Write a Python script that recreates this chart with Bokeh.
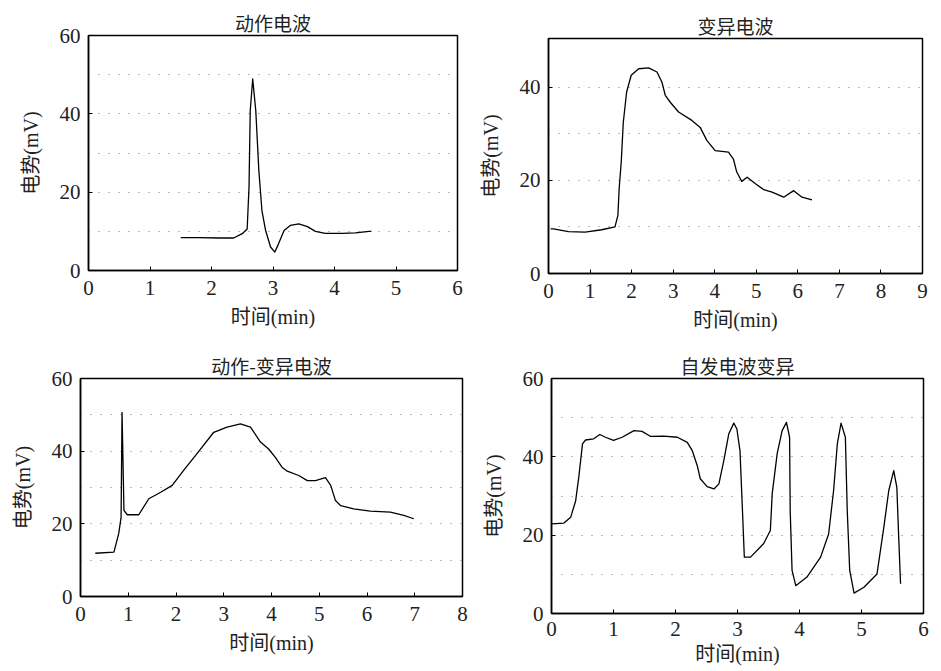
from bokeh.plotting import figure
from bokeh.layouts import column, row
from bokeh.models import FixedTicker, Range1d
from bokeh.embed import file_html
from bokeh.resources import INLINE

# ---- data ----
titles = ["动作电波", "变异电波", "动作-变异电波", "自发电波变异"]
x_label = "时间(min)"
y_label = "电势(mV)"

t1 = [1.5, 1.8, 2.12, 2.36, 2.5, 2.58, 2.61, 2.63, 2.67, 2.72, 2.77, 2.82, 2.88, 2.96, 3.03, 3.09, 3.18, 3.28, 3.42, 3.56, 3.69, 3.85, 4.12, 4.34, 4.56, 4.6]
v1 = [8.4, 8.4, 8.3, 8.3, 9.4, 10.6, 21.3, 40.8, 48.9, 40.8, 25.5, 15.3, 10.2, 6.0, 4.7, 6.8, 10.2, 11.5, 11.9, 11.2, 10.0, 9.5, 9.5, 9.6, 10.0, 10.0]

t2 = [0.05, 0.12, 0.48, 0.88, 1.28, 1.6, 1.67, 1.7, 1.75, 1.8, 1.88, 1.99, 2.17, 2.41, 2.61, 2.73, 2.81, 2.93, 3.13, 3.45, 3.65, 3.81, 4.01, 4.33, 4.45, 4.53, 4.65, 4.78, 4.98, 5.18, 5.38, 5.66, 5.9, 6.1, 6.34]
v2 = [9.6, 9.6, 9.0, 8.9, 9.4, 10.0, 12.5, 18.2, 23.9, 32.5, 39.0, 42.6, 44.0, 44.2, 43.3, 41.1, 38.3, 36.8, 34.7, 32.9, 31.4, 28.6, 26.4, 26.1, 24.6, 21.8, 19.8, 20.7, 19.3, 18.0, 17.5, 16.4, 17.8, 16.4, 15.8]

t3 = [0.31, 0.7, 0.8, 0.85, 0.87, 0.91, 0.98, 1.22, 1.43, 1.68, 1.92, 2.16, 2.44, 2.79, 3.07, 3.35, 3.56, 3.77, 3.94, 4.08, 4.22, 4.33, 4.57, 4.75, 4.92, 5.13, 5.24, 5.34, 5.45, 5.72, 6.07, 6.49, 6.77, 6.98]
v3 = [11.9, 12.2, 17.3, 21.8, 50.7, 23.7, 22.5, 22.5, 26.9, 28.7, 30.6, 34.7, 39.3, 45.2, 46.6, 47.5, 46.6, 42.5, 40.6, 38.3, 35.6, 34.5, 33.3, 31.9, 31.9, 32.7, 30.6, 26.4, 25.0, 24.1, 23.5, 23.2, 22.3, 21.4]

t4 = [0.0, 0.2, 0.31, 0.39, 0.44, 0.5, 0.55, 0.68, 0.78, 0.87, 1.0, 1.14, 1.33, 1.46, 1.6, 1.81, 2.03, 2.19, 2.27, 2.35, 2.4, 2.51, 2.62, 2.7, 2.78, 2.86, 2.94, 2.99, 3.04, 3.08, 3.11, 3.21, 3.42, 3.53, 3.56, 3.64, 3.72, 3.79, 3.84, 3.85, 3.88, 3.94, 4.12, 4.34, 4.47, 4.55, 4.61, 4.67, 4.74, 4.77, 4.81, 4.88, 5.04, 5.25, 5.36, 5.44, 5.52, 5.57, 5.6, 5.63]
v4 = [22.9, 23.1, 24.6, 28.8, 34.8, 43.3, 44.3, 44.6, 45.7, 45.0, 44.2, 45.0, 46.7, 46.5, 45.2, 45.3, 45.0, 43.7, 41.6, 37.8, 34.4, 32.4, 31.8, 33.1, 39.1, 45.9, 48.6, 47.1, 41.6, 26.3, 14.4, 14.4, 17.8, 21.2, 30.6, 40.8, 46.7, 48.8, 45.0, 26.3, 11.0, 7.1, 9.3, 14.4, 20.3, 31.4, 43.3, 48.6, 45.0, 26.3, 11.0, 5.2, 6.7, 10.1, 22.0, 31.4, 36.5, 32.2, 19.5, 7.6]

x_ticks = [[0, 1, 2, 3, 4, 5, 6], [0, 1, 2, 3, 4, 5, 6, 7, 8, 9], [0, 1, 2, 3, 4, 5, 6, 7, 8], [0, 1, 2, 3, 4, 5, 6]]
y_ticks = [[0, 20, 40, 60], [0, 20, 40], [0, 20, 40, 60], [0, 20, 40, 60]]
grid_levels = [[10, 20, 30, 40, 50], [10, 20, 30, 40], [10, 20, 30, 40, 50], [10, 20, 30, 40, 50]]
x_max = [6, 9, 8, 6]
y_max = [60, 50.5, 60, 60]

series = [(t1, v1), (t2, v2), (t3, v3), (t4, v4)]

# layout (pixels): figure size and (left, right, top, bottom) borders
sizes = [(473, 338), (463, 338), (473, 333), (463, 333)]
borders = [(88, 16, 35, 68), (75, 14, 38, 65), (80, 11, 40, 75), (78, 13, 40, 58)]
xlabel_standoff = [8, 8, 8, 4]

CJK = "Noto Sans CJK SC"
SERIF = "Liberation Serif"
MIXED = "Liberation Serif, Noto Sans CJK SC"

figs = []
for i in range(4):
    w, h = sizes[i]
    bl, br, bt, bb = borders[i]
    p = figure(width=w, height=h, output_backend="svg", toolbar_location=None,
               x_range=Range1d(0, x_max[i]), y_range=Range1d(0, y_max[i]),
               min_border_left=bl, min_border_right=br, min_border_top=bt, min_border_bottom=bb,
               title=titles[i])
    p.title.text_font = CJK
    p.title.text_font_size = "19px"
    p.title.text_font_style = "normal"
    p.title.text_color = "#222222"
    p.title.align = "center"
    p.title.standoff = 0
    p.title.offset = 0
    p.outline_line_color = "black"
    p.outline_line_width = 1.5
    p.background_fill_color = "white"
    p.border_fill_color = "white"

    p.xaxis.ticker = FixedTicker(ticks=x_ticks[i])
    p.yaxis.ticker = FixedTicker(ticks=y_ticks[i])
    for ax in (p.xaxis, p.yaxis):
        ax.major_tick_in = 4
        ax.major_tick_out = 0
        ax.minor_tick_line_color = None
        ax.axis_line_color = "black"
        ax.axis_line_width = 1.5
        ax.major_label_text_font = SERIF
        ax.major_label_text_font_size = "21px"
        ax.major_label_text_color = "#222222"
        ax.axis_label_text_font = MIXED
        ax.axis_label_text_font_size = "20px"
        ax.axis_label_text_font_style = "normal"
        ax.axis_label_text_color = "#222222"
    p.xaxis.axis_label = x_label
    p.yaxis.axis_label = y_label
    p.xaxis.axis_label_standoff = xlabel_standoff[i]
    p.yaxis.axis_label_standoff = 15
    p.xaxis.major_label_standoff = 10 if i < 3 else 8
    p.yaxis.major_label_standoff = 8

    p.xgrid.grid_line_color = None
    p.ygrid.ticker = FixedTicker(ticks=grid_levels[i])
    p.ygrid.grid_line_color = "#777777"
    p.ygrid.grid_line_dash = "1 9"
    p.ygrid.grid_line_width = 1

    t, v = series[i]
    p.line(t, v, line_color="black", line_width=1.3, line_join="round")
    figs.append(p)

layout = column(row(column(figs[0]), column(figs[1])), row(column(figs[2]), column(figs[3])))
open("out.html", "w").write(file_html(layout, INLINE))
